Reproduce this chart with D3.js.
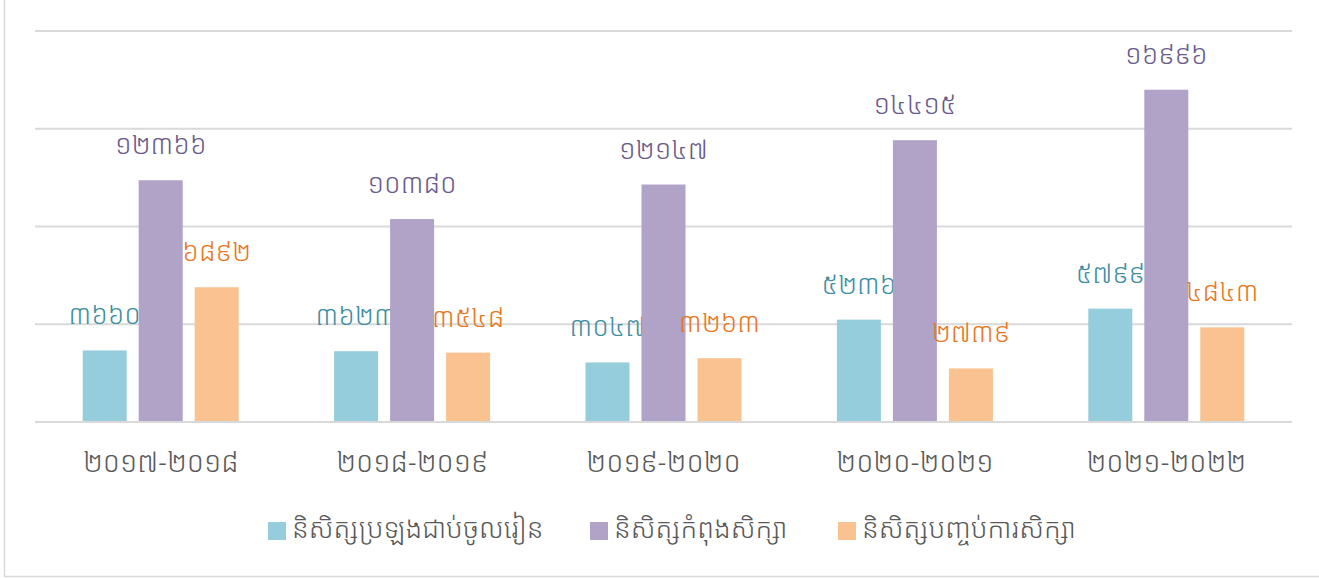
<!DOCTYPE html>
<html><head><meta charset="utf-8">
<script src="https://cdn.jsdelivr.net/npm/d3@7"></script>
<style>
html,body{margin:0;padding:0;background:#fff;}
svg{display:block;}
text{font-family:"Noto Sans Khmer","Khmer OS","Noto Sans",sans-serif;font-weight:300;}
</style></head>
<body>
<svg id="chart" width="1319" height="579"></svg>
<script>
const categories = ["២០១៧-២០១៨","២០១៨-២០១៩","២០១៩-២០២០","២០២០-២០២១","២០២១-២០២២"];
const seriesNames = ["និសិត្សប្រឡងជាប់ចូលរៀន","និសិត្សកំពុងសិក្សា","និសិត្សបញ្ចប់ការសិក្សា"];
const admitted = [3660, 3623, 3047, 5236, 5799];
const studying = [12366, 10380, 12147, 14415, 16996];
const graduated = [6892, 3548, 3263, 2739, 4843];
const yTicks = [0, 5000, 10000, 15000, 20000];
const barColors = ["#96cddc", "#b1a2c8", "#f9c290"];
const labelColors = ["#3f8ea3", "#6a5a8c", "#e8781f"];

(function(){
const khDigits = "០១២៣៤៥៦៧៨៩";
const toKh = n => String(n).replace(/[0-9]/g, d => khDigits[+d]);

const svg = d3.select("#chart");
const W = 1319, H = 579;
const mLeft = 35, mRight = 1292, mTop = 31, mBottom = 422;

svg.append("path").attr("d", `M4.5,0 V576.5 H${W}`).attr("fill","none").attr("stroke","#d9d9d9").attr("stroke-width",1.5);

const x0 = d3.scaleBand().domain(categories).range([mLeft, mRight]).paddingInner(0).paddingOuter(0);
const x1 = d3.scaleBand().domain([0,1,2]).range([0, 156]).paddingInner(0.214).paddingOuter(0);
const y = d3.scaleLinear().domain([0, 20000]).range([mBottom, mTop]);

svg.append("g").selectAll("line").data(yTicks).join("line")
  .attr("x1", mLeft).attr("x2", mRight)
  .attr("y1", d => y(d)).attr("y2", d => y(d))
  .attr("stroke", "#d9d9d9").attr("stroke-width", 2);

const series = [admitted, studying, graduated];
const groupOffset = (x0.bandwidth() - 156) / 2;

series.forEach((vals, si) => {
  const g = svg.append("g");
  g.selectAll("rect").data(vals).join("rect")
    .attr("x", (d, i) => x0(categories[i]) + groupOffset + x1(si))
    .attr("y", d => y(d))
    .attr("width", x1.bandwidth())
    .attr("height", d => y(0) - y(d))
    .attr("fill", barColors[si]);
  g.selectAll("text").data(vals).join("text")
    .attr("x", (d, i) => x0(categories[i]) + groupOffset + x1(si) + x1.bandwidth()/2)
    .attr("y", d => y(d) - 26)
    .attr("text-anchor", "middle")
    .attr("font-size", 27)
    .attr("fill", labelColors[si])
    .text(d => toKh(d));
});

svg.append("line").attr("x1", mLeft).attr("x2", mRight).attr("y1", y(0)).attr("y2", y(0))
  .attr("stroke", "#d9d9d9").attr("stroke-width", 2);

const xAxis = d3.axisBottom(x0).tickSize(0).tickPadding(0);
const ax = svg.append("g").attr("transform", `translate(0,${mBottom})`).call(xAxis);
ax.select(".domain").remove();
ax.selectAll("text").attr("font-size", 28).attr("fill", "#595959").attr("y", 50).attr("dy", 0)
  .style("font-family", '"Noto Sans Khmer","Khmer OS","Noto Sans",sans-serif').style("font-weight", 300);

const legendX = [268, 590, 838];
const lg = svg.append("g");
seriesNames.forEach((name, i) => {
  lg.append("rect").attr("x", legendX[i]).attr("y", 522).attr("width", 18).attr("height", 18).attr("fill", barColors[i]);
  lg.append("text").attr("x", legendX[i] + 24).attr("y", 538).attr("font-size", 27.3).attr("fill", "#595959").text(name);
});
})();
</script>
</body></html>
